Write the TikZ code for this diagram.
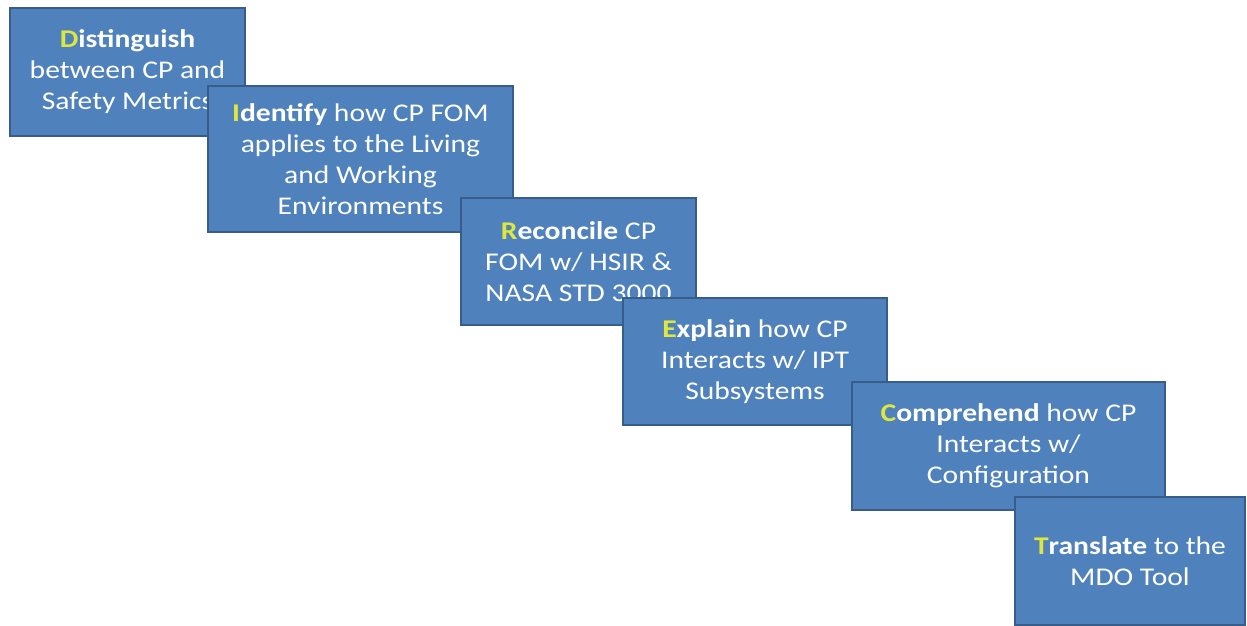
\documentclass[tikz,border=0pt]{standalone}
\usepackage{fontspec}
\setmainfont{Carlito}[FakeStretch=1.16]
\definecolor{boxfill}{RGB}{79,129,189}
\definecolor{boxline}{RGB}{56,93,138}
\definecolor{initial}{RGB}{222,232,60}
\newcommand{\Ini}[1]{\textcolor{initial}{#1}}
\tikzset{
  stepbox/.style={draw=boxline, line width=2pt, fill=boxfill, text=white,
    align=center, anchor=north west, inner sep=0pt, outer sep=0pt,
    font=\fontsize{25.5}{31}\selectfont},
}
\begin{document}
\begin{tikzpicture}[x=1pt,y=-1pt]
\useasboundingbox (0,0) rectangle (1247,626);
\node[stepbox, minimum width=235pt, minimum height=128pt] (d) at (10,8)
  {\textbf{\Ini{D}istinguish}\\between CP and\\Safety Metrics};
\node[stepbox, minimum width=305pt, minimum height=146pt] (i) at (208,86)
  {\textbf{\Ini{I}dentify} how CP FOM\\applies to the Living\\and Working\\Environments};
\node[stepbox, minimum width=235pt, minimum height=127pt] (r) at (461,198)
  {\textbf{\Ini{R}econcile} CP\\FOM w/ HSIR \&\\NASA STD 3000};
\node[stepbox, minimum width=264pt, minimum height=127pt] (e) at (623,298)
  {\textbf{\Ini{E}xplain} how CP\\Interacts w/ IPT\\Subsystems};
\node[stepbox, minimum width=313pt, minimum height=128pt] (c) at (852,382)
  {\textbf{\Ini{C}omprehend} how CP\\Interacts w/\\Configuration};
\node[stepbox, minimum width=230pt, minimum height=128pt] (t) at (1015,497)
  {\textbf{\Ini{T}ranslate} to the\\MDO Tool};
\end{tikzpicture}
\end{document}
